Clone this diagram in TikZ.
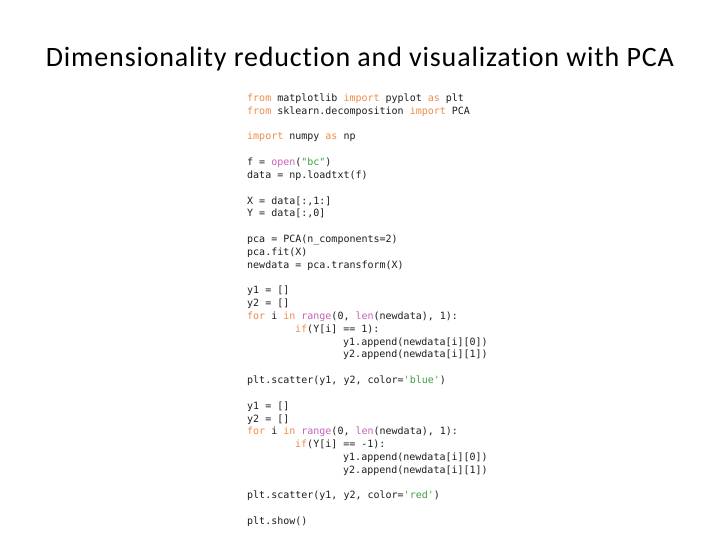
\documentclass[tikz,border=0pt]{standalone}
\usepackage{fontspec}
\setmainfont{Carlito}[Ligatures=NoCommon]
\newfontfamily\titlefont{Carlito}[Ligatures=NoCommon,LetterSpace=3.0]
\newfontfamily\codefont{DejaVu Sans Mono}
\definecolor{kw}{HTML}{EE8C4C}
\definecolor{bi}{HTML}{C561B9}
\definecolor{st}{HTML}{3EA043}
\definecolor{tx}{HTML}{1E1E1E}
\newcommand{\K}[1]{\textcolor{kw}{#1}}
\newcommand{\B}[1]{\textcolor{bi}{#1}}
\newcommand{\St}[1]{\textcolor{st}{#1}}
\begin{document}
\begin{tikzpicture}[x=1pt,y=-1pt,
  codeline/.style={anchor=base west,inner sep=0pt,text=tx,font=\codefont\fontsize{10}{12}\selectfont},
  titletext/.style={anchor=base,inner sep=0pt,font=\titlefont\fontsize{28}{32}\selectfont}]
\useasboundingbox[fill=white] (0,0) rectangle (720,540);
\node[titletext] (title) at (360,67) {Dimensionality reduction and visualization with PCA};
\def\dy{12.82}
\def\bx{247}
\def\by{101.5}
\node[codeline] (l1) at (\bx,\by+0*\dy) {\K{from} matplotlib \K{import} pyplot \K{as} plt};
\node[codeline] (l2) at (\bx,\by+1*\dy) {\K{from} sklearn.decomposition \K{import} PCA};
\node[codeline] (l4) at (\bx,\by+3*\dy) {\K{import} numpy \K{as} np};
\node[codeline] (l6) at (\bx,\by+5*\dy) {f = \B{open}(\St{"bc"})};
\node[codeline] (l7) at (\bx,\by+6*\dy) {data = np.loadtxt(f)};
\node[codeline] (l9) at (\bx,\by+8*\dy) {X = data[:,1:]};
\node[codeline] (l10) at (\bx,\by+9*\dy) {Y = data[:,0]};
\node[codeline] (l12) at (\bx,\by+11*\dy) {pca = PCA(n\_components=2)};
\node[codeline] (l13) at (\bx,\by+12*\dy) {pca.fit(X)};
\node[codeline] (l14) at (\bx,\by+13*\dy) {newdata = pca.transform(X)};
\node[codeline] (l16) at (\bx,\by+15*\dy) {y1 = []};
\node[codeline] (l17) at (\bx,\by+16*\dy) {y2 = []};
\node[codeline] (l18) at (\bx,\by+17*\dy) {\K{for} i \K{in} \B{range}(0, \B{len}(newdata), 1):};
\node[codeline] (l19) at (\bx+48,\by+18*\dy) {\K{if}(Y[i] == 1):};
\node[codeline] (l20) at (\bx+96,\by+19*\dy) {y1.append(newdata[i][0])};
\node[codeline] (l21) at (\bx+96,\by+20*\dy) {y2.append(newdata[i][1])};
\node[codeline] (l23) at (\bx,\by+22*\dy) {plt.scatter(y1, y2, color=\St{'blue'})};
\node[codeline] (l25) at (\bx,\by+24*\dy) {y1 = []};
\node[codeline] (l26) at (\bx,\by+25*\dy) {y2 = []};
\node[codeline] (l27) at (\bx,\by+26*\dy) {\K{for} i \K{in} \B{range}(0, \B{len}(newdata), 1):};
\node[codeline] (l28) at (\bx+48,\by+27*\dy) {\K{if}(Y[i] == -1):};
\node[codeline] (l29) at (\bx+96,\by+28*\dy) {y1.append(newdata[i][0])};
\node[codeline] (l30) at (\bx+96,\by+29*\dy) {y2.append(newdata[i][1])};
\node[codeline] (l32) at (\bx,\by+31*\dy) {plt.scatter(y1, y2, color=\St{'red'})};
\node[codeline] (l34) at (\bx,\by+33*\dy) {plt.show()};
\end{tikzpicture}
\end{document}
